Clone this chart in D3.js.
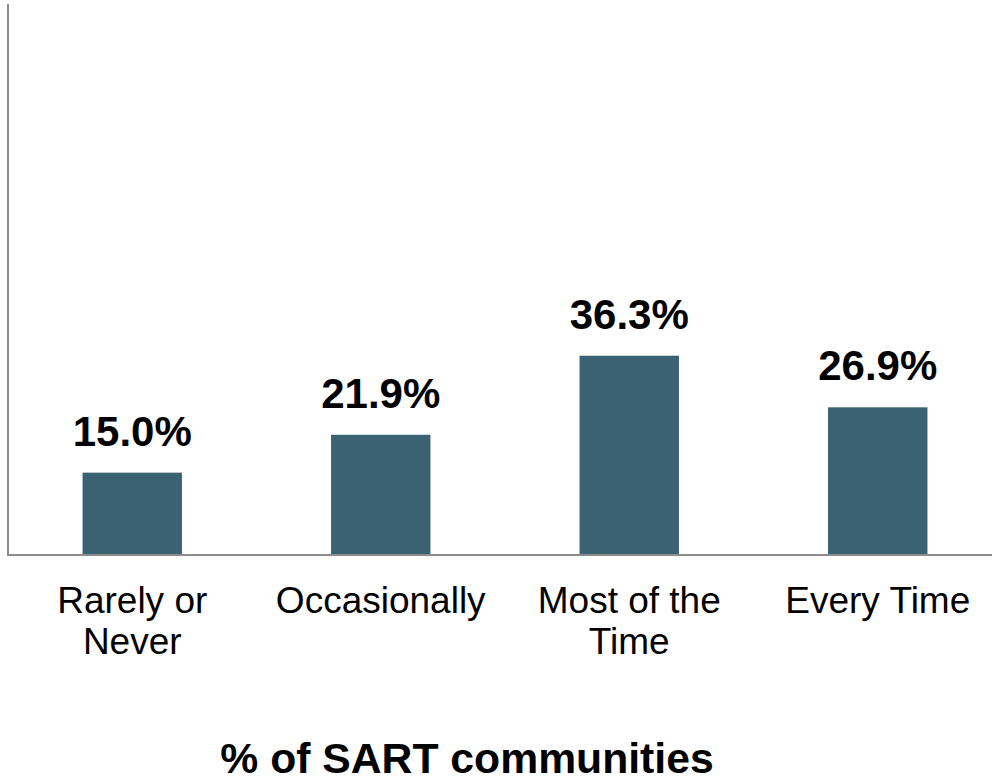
<!DOCTYPE html>
<html>
<head>
<meta charset="utf-8">
<script src="https://cdn.jsdelivr.net/npm/d3@7"></script>
<style>
  body { margin: 0; background: #fff; }
  svg text { font-family: "Liberation Sans", Arial, sans-serif; fill: #000; }
  .axis path { stroke: #8c8c8c; stroke-width: 2; }
  .value-label { font-weight: bold; font-size: 42px; }
  .cat-label { font-size: 37px; }
  .title { font-weight: bold; font-size: 42.7px; }
</style>
</head>
<body>
<svg id="chart" width="992" height="782"></svg>
<script>
// data
var categories = ["Rarely or Never", "Occasionally", "Most of the Time", "Every Time"];
var values = [15.0, 21.9, 36.3, 26.9];
var yDomain = [0, 100];
var title = "% of SART communities";

var svg = d3.select("#chart");
var left = 8, right = 1002, baseY = 555, topY = 6;

var x = d3.scaleBand()
    .domain(categories)
    .range([left, right])
    .paddingInner(0.6)
    .paddingOuter(0.3);

var y = d3.scaleLinear()
    .domain(yDomain)
    .range([baseY, topY]);

var data = categories.map(function (c, i) {
    return {cat: c, val: values[i]};
});

// bars
svg.append("g").selectAll("rect")
    .data(data)
    .enter().append("rect")
    .attr("x", function (d) { return x(d.cat); })
    .attr("y", function (d) { return y(d.val); })
    .attr("width", x.bandwidth())
    .attr("height", function (d) { return baseY - y(d.val); })
    .attr("fill", "#3b6272");

// value labels
svg.append("g").selectAll("text")
    .data(data)
    .enter().append("text")
    .attr("class", "value-label")
    .attr("text-anchor", "middle")
    .attr("x", function (d) { return x(d.cat) + x.bandwidth() / 2; })
    .attr("y", function (d) { return y(d.val) - 27; })
    .text(function (d) { return d.val.toFixed(1) + "%"; });

// y axis: just the line
svg.append("g")
    .attr("class", "axis")
    .attr("transform", "translate(" + left + ",0)")
    .call(d3.axisLeft(y).tickValues([]).tickSizeOuter(0))
    .select(".domain")
    .attr("d", "M0," + (topY - 2) + "V" + (baseY + 1));

// x axis baseline
svg.append("g")
    .attr("class", "axis")
    .attr("transform", "translate(0," + baseY + ")")
    .call(d3.axisBottom(x).tickValues([]).tickSizeOuter(0))
    .select(".domain")
    .attr("d", "M" + (left - 1) + ",0H992");

// category labels, wrapped
var cats = svg.append("g").selectAll("text")
    .data(categories)
    .enter().append("text")
    .attr("class", "cat-label")
    .attr("text-anchor", "middle")
    .attr("x", function (d) { return x(d) + x.bandwidth() / 2; })
    .attr("y", 613);

cats.each(function (d) {
    var t = d3.select(this), words = d.split(" "), line = [], lineNo = 0;
    var cx = x(d) + x.bandwidth() / 2;
    var tspan = t.append("tspan").attr("x", cx).attr("dy", 0);
    words.forEach(function (w) {
        line.push(w);
        tspan.text(line.join(" "));
        if (tspan.node().getComputedTextLength() > 225 && line.length > 1) {
            line.pop();
            tspan.text(line.join(" "));
            line = [w];
            lineNo++;
            tspan = t.append("tspan").attr("x", cx).attr("dy", 41).text(w);
        }
    });
});

svg.append("text")
    .attr("class", "title")
    .attr("text-anchor", "middle")
    .attr("x", 467)
    .attr("y", 773)
    .text(title);
</script>
</body>
</html>
